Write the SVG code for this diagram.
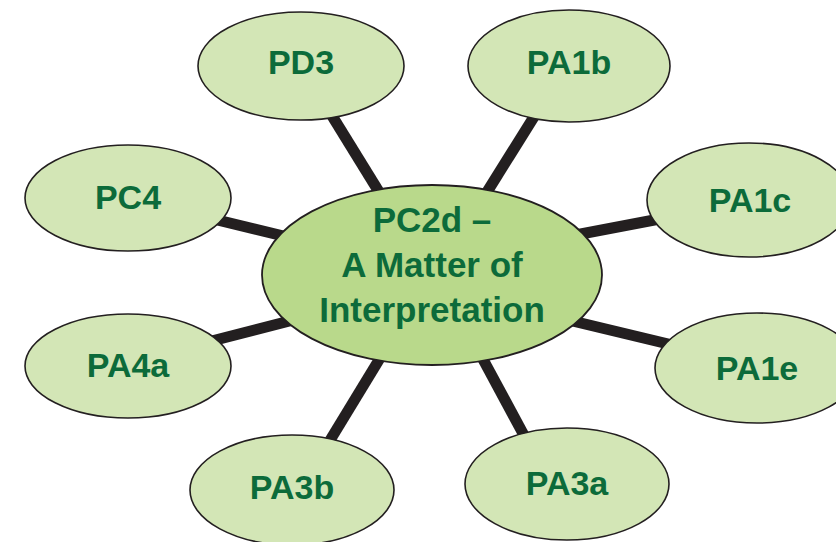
<svg xmlns="http://www.w3.org/2000/svg" width="836" height="542" viewBox="0 0 836 542">
  <style>
    .link { stroke: #231f20; stroke-width: 11; fill: none; }
    .outer { fill: #d3e6b6; stroke: #231f20; stroke-width: 1.6; }
    .hub { fill: #b9d98b; stroke: #231f20; stroke-width: 1.8; }
    .label { font-family: "Liberation Sans", Arial, sans-serif; font-weight: bold; font-size: 34px; fill: #0c6b3a; text-anchor: middle; }
    .hub-label { font-size: 35px; }
  </style>
  <rect width="836" height="542" fill="#ffffff"/>

  <!-- spokes from the central topic to each linked item -->
  <g id="connectors">
    <line class="link" x1="326" y1="106" x2="384" y2="200"/>
    <line class="link" x1="542" y1="104" x2="482" y2="200"/>
    <line class="link" x1="205" y1="217" x2="300" y2="240"/>
    <line class="link" x1="565" y1="237" x2="670" y2="217"/>
    <line class="link" x1="200" y1="344" x2="305" y2="317"/>
    <line class="link" x1="560" y1="318" x2="685" y2="348"/>
    <line class="link" x1="318" y1="460" x2="385" y2="350"/>
    <line class="link" x1="533" y1="452" x2="478" y2="350"/>
  </g>

  <g id="node-pd3">
    <ellipse class="outer" cx="301" cy="66" rx="103" ry="54"/>
    <text class="label" x="301" y="74">PD3</text>
  </g>
  <g id="node-pa1b">
    <ellipse class="outer" cx="569" cy="66" rx="101" ry="56"/>
    <text class="label" x="569" y="74">PA1b</text>
  </g>
  <g id="node-pc4">
    <ellipse class="outer" cx="128" cy="198" rx="103" ry="53"/>
    <text class="label" x="128" y="209">PC4</text>
  </g>
  <g id="node-pa1c">
    <ellipse class="outer" cx="749" cy="200" rx="102" ry="57"/>
    <text class="label" x="750" y="212">PA1c</text>
  </g>
  <g id="node-pa4a">
    <ellipse class="outer" cx="128" cy="366" rx="103" ry="52"/>
    <text class="label" x="128" y="377">PA4a</text>
  </g>
  <g id="node-pa1e">
    <ellipse class="outer" cx="757" cy="368" rx="102" ry="55"/>
    <text class="label" x="757" y="380">PA1e</text>
  </g>
  <g id="node-pa3b">
    <ellipse class="outer" cx="292" cy="490" rx="102" ry="55"/>
    <text class="label" x="292" y="499">PA3b</text>
  </g>
  <g id="node-pa3a">
    <ellipse class="outer" cx="567" cy="484" rx="102" ry="56"/>
    <text class="label" x="567" y="495">PA3a</text>
  </g>

  <g id="node-pc2d">
    <ellipse class="hub" cx="432" cy="275" rx="170" ry="90"/>
    <text class="label hub-label" x="432" y="232">PC2d –</text>
    <text class="label hub-label" x="432" y="277">A Matter of</text>
    <text class="label hub-label" x="432" y="322">Interpretation</text>
  </g>
</svg>
